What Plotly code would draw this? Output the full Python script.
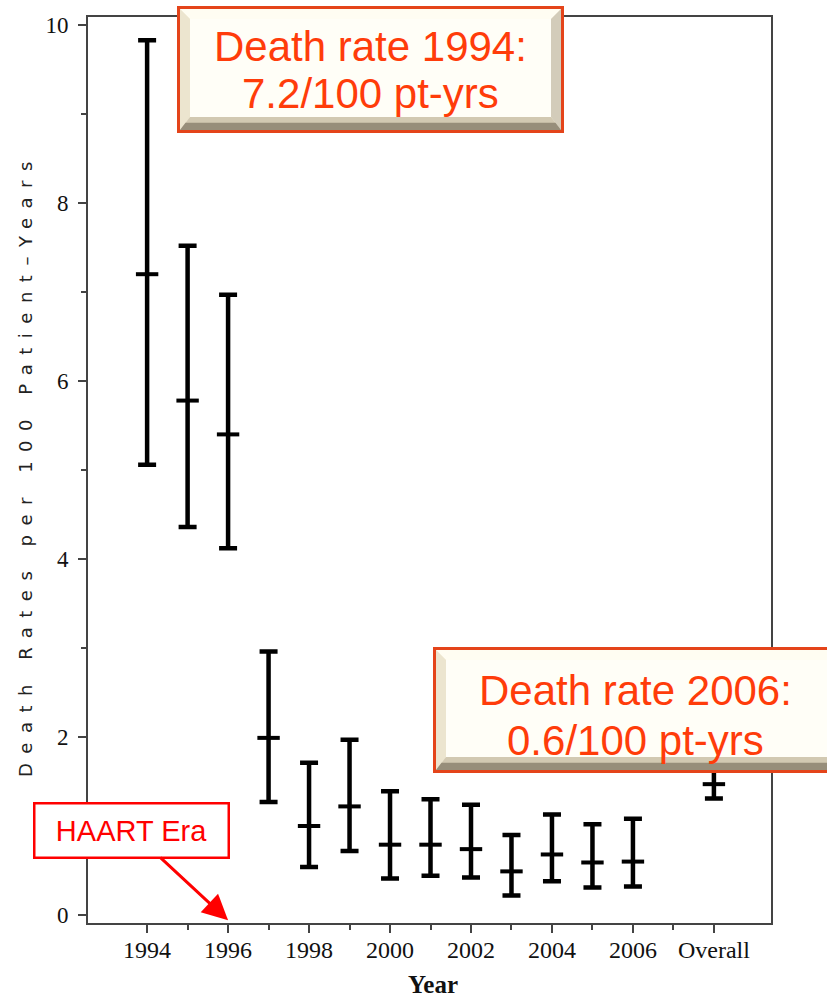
import plotly.graph_objects as go

# Annual death rates (per 100 patient-years) with 95% confidence limits
years = [1994, 1995, 1996, 1997, 1998, 1999, 2000, 2001, 2002, 2003, 2004, 2005, 2006]
rate = [7.2, 5.78, 5.40, 1.99, 1.00, 1.22, 0.79, 0.79, 0.74, 0.49, 0.68, 0.59, 0.6]
lower = [5.06, 4.36, 4.12, 1.27, 0.54, 0.72, 0.41, 0.44, 0.42, 0.22, 0.38, 0.31, 0.32]
upper = [9.83, 7.52, 6.97, 2.96, 1.71, 1.97, 1.39, 1.30, 1.24, 0.90, 1.13, 1.02, 1.08]

# Pooled estimate over the whole period
overall_rate = 1.47
overall_lower = 1.31
overall_upper = 1.62
overall_pos = 2008

major_ticks = [1994, 1996, 1998, 2000, 2002, 2004, 2006, 2008]
major_labels = ["1994", "1996", "1998", "2000", "2002", "2004", "2006", "Overall"]
minor_ticks = [1995, 1997, 1999, 2001, 2003, 2005, 2007]

W, H = 827, 999
PL, PR, PT, PB = 88, 771, 17, 923


def px(xp):
    return (xp - PL) / (PR - PL)


def py(yp):
    return (PB - yp) / (PB - PT)


def poly(points, fill):
    d = "M " + " L ".join(f"{px(a):.5f},{py(b):.5f}" for a, b in points) + " Z"
    return dict(type="path", xref="paper", yref="paper", path=d,
                fillcolor=fill, line=dict(width=0), layer="above")


def rect(x0, y0, x1, y1, fill, line_col=None, lw=0):
    return dict(type="rect", xref="paper", yref="paper",
                x0=px(x0), x1=px(x1), y0=py(y1), y1=py(y0),
                fillcolor=fill, line=dict(width=lw, color=line_col or fill),
                layer="above")


def bevel_box(x0, y0, x1, y1, border="#e4441a", b=3, w=10, wb=13):
    xi0, xi1, yi0, yi1 = x0 + b, x1 - b, y0 + b, y1 - b
    out = [rect(x0, y0, x1, y1, border),
           rect(xi0, yi0, xi1, yi1, "#f8f1dc")]
    out.append(poly([(xi0, yi0), (xi1, yi0), (xi1 - w, yi0 + w), (xi0 + w, yi0 + w)], "#fffdf2"))
    out.append(poly([(xi0, yi0), (xi0 + w, yi0 + w), (xi0 + w, yi1 - wb), (xi0, yi1)], "#ece5cf"))
    out.append(poly([(xi1, yi0), (xi1, yi1), (xi1 - w, yi1 - wb), (xi1 - w, yi0 + w)], "#d3ccba"))
    out.append(poly([(xi0, yi1), (xi1, yi1), (xi1 - w, yi1 - wb), (xi0 + w, yi1 - wb)], "#d2c9b2"))
    h2 = wb * 0.55
    out.append(poly([(xi0, yi1), (xi1, yi1), (xi1 - w * 0.55, yi1 - h2), (xi0 + w * 0.55, yi1 - h2)], "#978e7a"))
    out.append(rect(xi0 + w, yi0 + w, xi1 - w, yi1 - wb, "#fffef7"))
    return out


x_pos = years + [overall_pos]
y_val = rate + [overall_rate]
err_up = [u - r for u, r in zip(upper + [overall_upper], y_val)]
err_dn = [r - l for r, l in zip(y_val, lower + [overall_lower])]

fig = go.Figure()
fig.add_trace(go.Scatter(
    x=x_pos, y=y_val, mode="markers",
    marker=dict(symbol="line-ew", size=16, color="black",
                line=dict(width=4, color="black")),
    error_y=dict(type="data", symmetric=False, array=err_up, arrayminus=err_dn,
                 thickness=4.5, width=9, color="black"),
    showlegend=False, hoverinfo="skip",
))

axis_col = "#444444"
fig.update_xaxes(
    range=[1992.54, 2009.41], showgrid=False, zeroline=False, automargin=False,
    showline=True, linecolor=axis_col, linewidth=2, mirror=True,
    tickmode="array", tickvals=major_ticks, ticktext=major_labels,
    ticks="outside", ticklen=8, tickwidth=2, tickcolor=axis_col,
    minor=dict(tickmode="array", tickvals=minor_ticks, ticks="outside",
               ticklen=5, tickwidth=2, tickcolor=axis_col),
    tickfont=dict(family="Liberation Serif", size=24, color="#111111"),
    ticklabelstandoff=-4,
)
fig.update_yaxes(
    range=[-0.09, 10.09], showgrid=False, zeroline=False, automargin=False,
    showline=True, linecolor=axis_col, linewidth=2, mirror=True,
    tickmode="array", tickvals=[0, 2, 4, 6, 8, 10],
    ticks="outside", ticklen=8, tickwidth=2, tickcolor=axis_col,
    minor=dict(tickmode="array", tickvals=[1, 3, 5, 7, 9], ticks="outside",
               ticklen=5, tickwidth=2, tickcolor=axis_col),
    tickfont=dict(family="Liberation Serif", size=23, color="#111111"),
    ticklabelstandoff=5,
)

shapes = []
shapes += bevel_box(177, 6, 564, 133)
shapes += bevel_box(433, 647, 840, 773)

txt_col = "#ff3c0a"
big = dict(family="Liberation Sans", size=42, color=txt_col)
annotations = [
    dict(text=f"Death rate {years[0]}:", x=px(370), y=py(47)),
    dict(text=f"{rate[0]:.1f}/100 pt-yrs", x=px(370), y=py(94)),
    dict(text=f"Death rate {years[-1]}:", x=px(635), y=py(690)),
    dict(text=f"{rate[-1]:.1f}/100 pt-yrs", x=px(635), y=py(740)),
]
for a in annotations:
    a.update(xref="paper", yref="paper", showarrow=False, font=big,
             xanchor="center", yanchor="middle")

annotations.append(dict(
    text="HAART Era", x=1996, y=-0.06, xref="x", yref="y",
    ax=130 - 227, ay=830 - 920, axref="pixel", ayref="pixel",
    showarrow=True, arrowhead=2, arrowsize=1.7, arrowwidth=3, arrowcolor="#ff0000",
    font=dict(family="Liberation Sans", size=29, color="#ff0000"),
    bgcolor="white", bordercolor="#ff0000", borderwidth=2.5, borderpad=1,
    width=190, height=50, align="center", valign="middle",
))

# Axis titles
annotations.append(dict(
    text="<b>Year</b>", x=px(433), y=py(985), xref="paper", yref="paper",
    showarrow=False, xanchor="center", yanchor="middle",
    font=dict(family="Liberation Serif", size=25, color="#111111"),
))
annotations.append(dict(
    text='<span style="letter-spacing:9.5px">Death Rates per 100 Patient\u2013Years</span>',
    x=px(25), y=py(465), xref="paper", yref="paper", showarrow=False,
    textangle=-90, xanchor="center", yanchor="middle",
    font=dict(family="DejaVu Sans", size=18, color="#222222"),
))

fig.update_layout(
    width=W, height=H,
    margin=dict(l=PL, r=W - PR, t=PT, b=H - PB, pad=0),
    paper_bgcolor="white", plot_bgcolor="white",
    shapes=shapes, annotations=annotations,
)

fig.write_html("out.html")
